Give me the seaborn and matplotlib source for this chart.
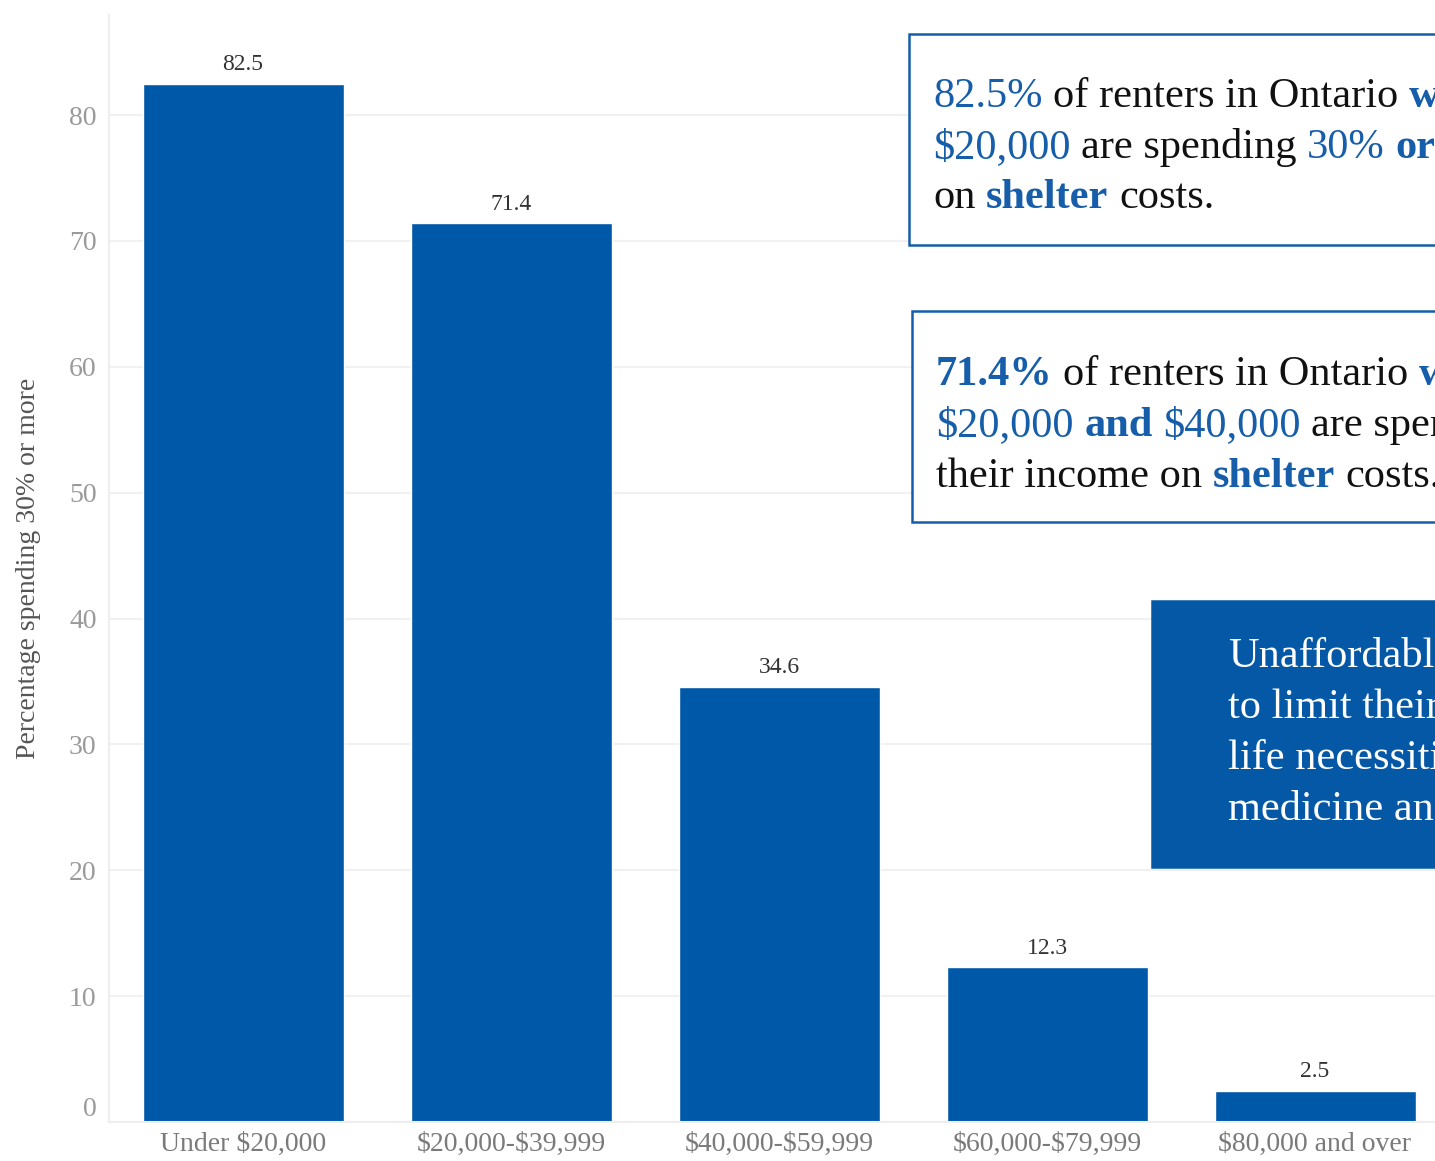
import matplotlib
matplotlib.use("Agg")
import matplotlib.pyplot as plt
import matplotlib.transforms as mtransforms
from matplotlib.patches import Rectangle
import seaborn as sns

# Data
categories = ["Under $20,000", "$20,000-$39,999", "$40,000-$59,999",
              "$60,000-$79,999", "$80,000 and over"]
values = [82.5, 71.4, 34.6, 12.3, 2.5]
y_ticks = [0, 10, 20, 30, 40, 50, 60, 70, 80]

W, H = 1435, 1161
BAR_BLUE = "#0059A8"
TEXT_BLUE = "#165EAA"
SERIF = ["Liberation Serif", "DejaVu Serif"]

sns.set_style("white")
plt.rcParams["font.family"] = SERIF
plt.rcParams["text.parse_math"] = False  # dollar signs are literal

fig = plt.figure(figsize=(W / 100, H / 100), dpi=100)
fig.patch.set_facecolor("white")

# axes placed in pixel terms; right edge runs past the image (cropped)
left, right, y0, ytop = 109, 1449, 1122, 15
ax = fig.add_axes([left / W, (H - y0) / H, (right - left) / W, (y0 - ytop) / H])

sns.barplot(x=categories, y=values, color=BAR_BLUE, saturation=1,
            width=0.75, ax=ax)
ax.set_xlim(-0.5, 4.5)
ax.set_ylim(0, (y0 - ytop) / 12.586)
ax.set_yticks(y_ticks)

ax.bar_label(ax.containers[0], fmt="%.1f", padding=6, fontsize=17,
             color="#333333")

ax.yaxis.grid(True, color="#f1f1f1", linewidth=1.5)
ax.set_axisbelow(True)
for side in ["top", "right"]:
    ax.spines[side].set_visible(False)
for side in ["left", "bottom"]:
    ax.spines[side].set_color("#eeeeee")
    ax.spines[side].set_linewidth(1.5)

ax.tick_params(axis="y", length=0, pad=9, labelsize=20, labelcolor="#9a9a9a")
ax.tick_params(axis="x", length=0, pad=7, labelsize=20, labelcolor="#7a7a7a")
ax.set_xlabel("")
ax.set_ylabel("Percentage spending 30% or more", fontsize=20,
              color="#555555", labelpad=20)

# the "0" label sits a little above the baseline in the original
zero_lbl = ax.get_yticklabels()[0]
zero_lbl.set_transform(zero_lbl.get_transform() +
                       mtransforms.ScaledTranslation(0, 0.16, fig.dpi_scale_trans))

renderer = fig.canvas.get_renderer()


def text_width(s, size, weight="normal"):
    t = fig.text(0, 0, s, fontsize=size, fontweight=weight, family=SERIF)
    w = t.get_window_extent(renderer).width
    t.remove()
    return w


def rich_line(x, y, parts, size):
    space = text_width("a a", size) - text_width("aa", size)
    for s, color, weight in parts:
        t = fig.text(x / W, 1 - y / H, s, fontsize=size, color=color,
                     fontweight=weight, family=SERIF, va="baseline", ha="left")
        x += t.get_window_extent(renderer).width + space


def box(x1, y1, x2, y2, face, edge):
    fig.add_artist(Rectangle((x1 / W, 1 - y2 / H), (x2 - x1) / W, (y2 - y1) / H,
                             transform=fig.transFigure, facecolor=face,
                             edgecolor=edge, linewidth=1.8))


FS = 30.5
K = "#111111"

# callout 1 (cropped at the right edge, as in the source image)
box(909, 34, 1480, 245, "white", TEXT_BLUE)
rich_line(933, 107, [("82.5%", TEXT_BLUE, "normal"),
                     ("of renters in Ontario", K, "normal"),
                     ("with", TEXT_BLUE, "bold")], FS)
rich_line(933, 158, [("$20,000", TEXT_BLUE, "normal"),
                     ("are spending", K, "normal"),
                     ("30%", TEXT_BLUE, "normal"),
                     ("or", TEXT_BLUE, "bold")], FS)
rich_line(933, 208, [("on", K, "normal"),
                     ("shelter", TEXT_BLUE, "bold"),
                     ("costs.", K, "normal")], FS)

# callout 2
box(912, 311, 1480, 522, "white", TEXT_BLUE)
rich_line(936, 385, [("71.4%", TEXT_BLUE, "bold"),
                     ("of renters in Ontario", K, "normal"),
                     ("with", TEXT_BLUE, "bold")], FS)
rich_line(936, 436, [("$20,000", TEXT_BLUE, "normal"),
                     ("and", TEXT_BLUE, "bold"),
                     ("$40,000", TEXT_BLUE, "normal"),
                     ("are spending", K, "normal")], FS)
rich_line(936, 487, [("their income on", K, "normal"),
                     ("shelter", TEXT_BLUE, "bold"),
                     ("costs.", K, "normal")], FS)

# callout 3
box(1152, 601, 1480, 867, "#0558A6", "#0558A6")
for yy, line in zip([667, 718, 769, 820],
                    ["Unaffordable", "to limit their",
                     "life necessities", "medicine and"]):
    rich_line(1228, yy, [(line, "white", "normal")], FS)

fig.savefig("out.png", dpi=100, facecolor="white")
